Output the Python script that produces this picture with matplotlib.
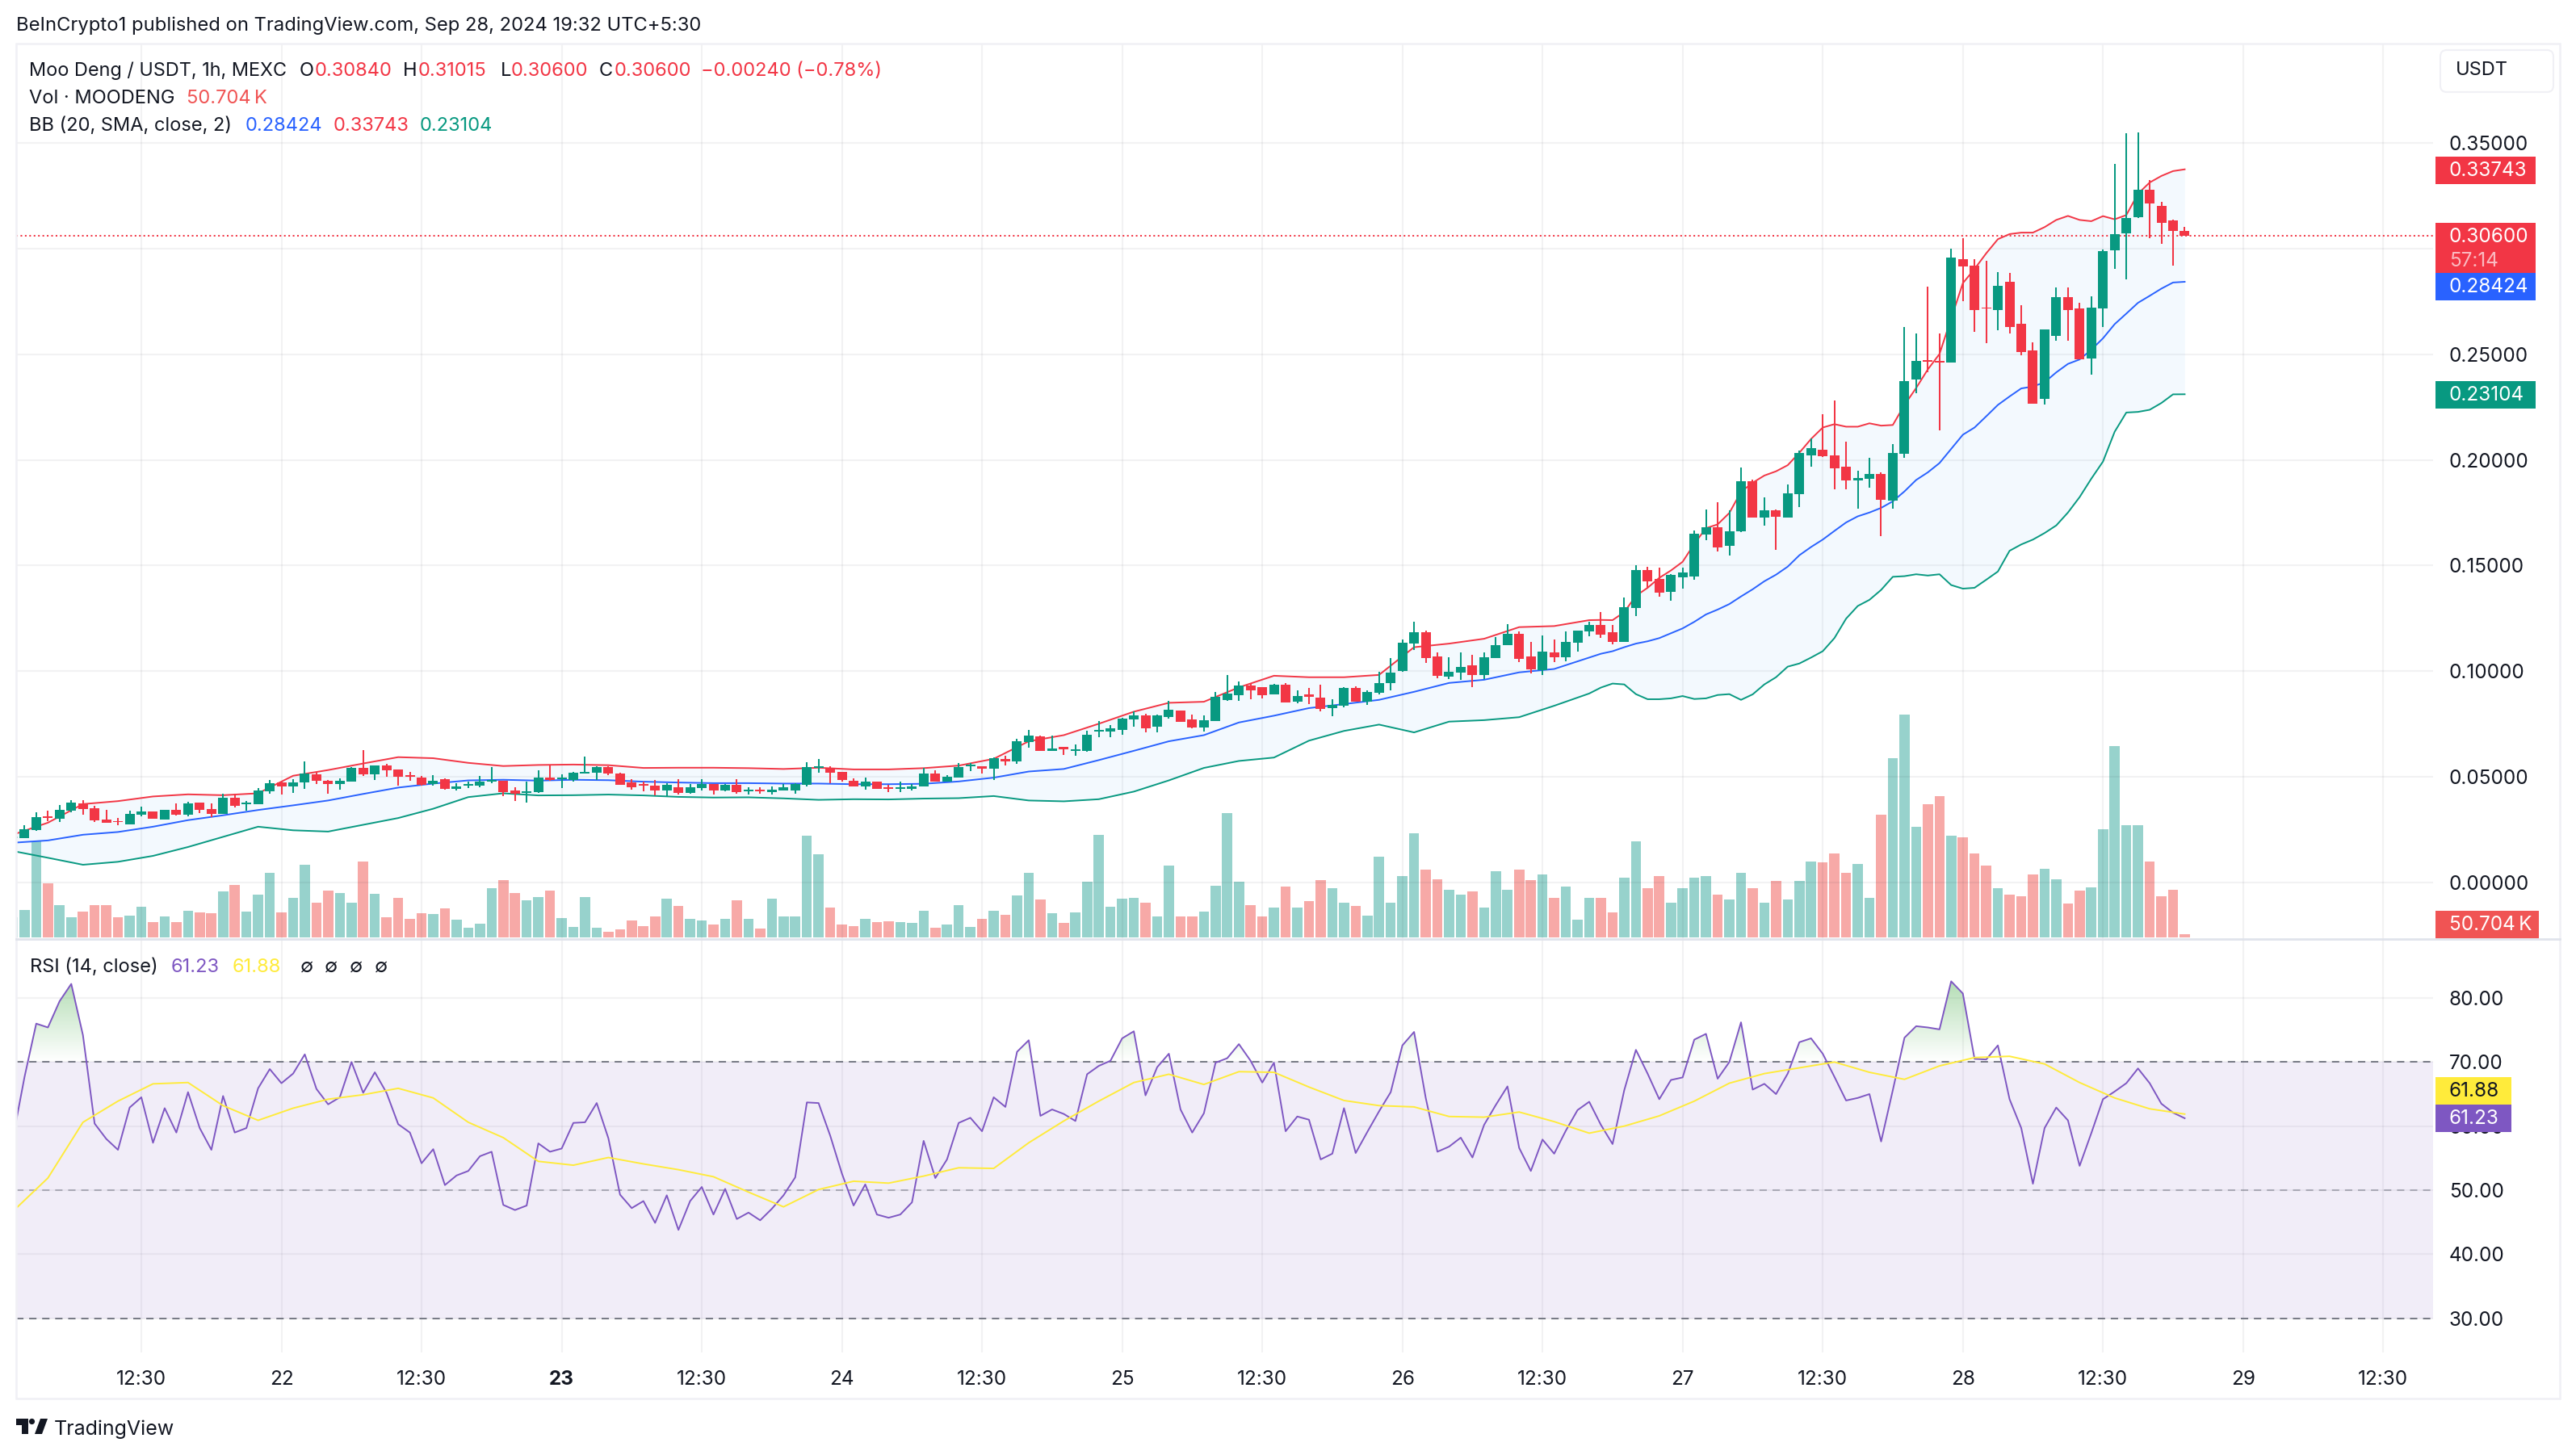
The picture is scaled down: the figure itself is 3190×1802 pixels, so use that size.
import numpy as np
import matplotlib
matplotlib.use("Agg")
import matplotlib.pyplot as plt
from matplotlib.colors import LinearSegmentedColormap
from matplotlib.patches import FancyBboxPatch, PathPatch, Polygon, Circle, Rectangle
from matplotlib.path import Path

plt.rcParams["font.family"] = ["Inter", "DejaVu Sans"]

# hourly bars, index 0 is the first 12:30 gridline on the 21st
bars = np.arange(-11, 176)

open_ = [0.0212, 0.0212, 0.0250, 0.0315, 0.0303, 0.0341, 0.0376, 0.0353, 0.0299, 0.0292, 0.0276,
         0.0322, 0.0338, 0.0299, 0.0345, 0.0322, 0.0380, 0.0349, 0.0326, 0.0403, 0.0372,
         0.0372, 0.0433, 0.0475, 0.0456, 0.0475, 0.0514, 0.0483, 0.0468, 0.0479, 0.0544,
         0.0514, 0.0556, 0.0536, 0.0510, 0.0498, 0.0468, 0.0491, 0.0445, 0.0460, 0.0460,
         0.0479, 0.0483, 0.0437, 0.0426, 0.0429, 0.0498, 0.0491, 0.0487, 0.0517, 0.0521,
         0.0548, 0.0517, 0.0475, 0.0465, 0.0460, 0.0437, 0.0452, 0.0426, 0.0449, 0.0468,
         0.0437, 0.0464, 0.0433, 0.0441, 0.0429, 0.0437, 0.0437, 0.0464, 0.0544, 0.0544,
         0.0525, 0.0483, 0.0456, 0.0479, 0.0452, 0.0445, 0.0445, 0.0456, 0.0517, 0.0479,
         0.0498, 0.0552, 0.0552, 0.0540, 0.0586, 0.0575, 0.0666, 0.0693, 0.0624, 0.0641,
         0.0624, 0.0624, 0.0716, 0.0716, 0.0724, 0.0773, 0.0793, 0.0739, 0.0785, 0.0815,
         0.0773, 0.0735, 0.0766, 0.0865, 0.0888, 0.0934, 0.0926, 0.0892, 0.0938, 0.0857,
         0.0889, 0.0877, 0.0825, 0.0837, 0.0922, 0.0857, 0.0900, 0.0943, 0.1000, 0.1131,
         0.1185, 0.1069, 0.0975, 0.0992, 0.1028, 0.0982, 0.1062, 0.1123, 0.1177, 0.1069,
         0.1006, 0.1088, 0.1065, 0.1134, 0.1188, 0.1218, 0.1185, 0.1138, 0.1300, 0.1478,
         0.1437, 0.1375, 0.1446, 0.1448, 0.1648, 0.1682, 0.1594, 0.1663, 0.1900, 0.1728,
         0.1762, 0.1728, 0.1837, 0.2022, 0.2048, 0.2021, 0.1968, 0.1901, 0.1910, 0.1933,
         0.1808, 0.2029, 0.2381, 0.2470, 0.2468, 0.2461, 0.2950, 0.2920, 0.2720, 0.2710,
         0.2843, 0.2645, 0.2517, 0.2288, 0.2587, 0.2771, 0.2717, 0.2481, 0.2718, 0.2992,
         0.3072, 0.3146, 0.3279, 0.3202, 0.3133, 0.3084]

close = [0.0219, 0.0254, 0.0311, 0.0308, 0.0345, 0.0380, 0.0349, 0.0296, 0.0284, 0.0288, 0.0326,
         0.0338, 0.0303, 0.0345, 0.0322, 0.0376, 0.0345, 0.0326, 0.0403, 0.0364, 0.0380,
         0.0437, 0.0471, 0.0456, 0.0475, 0.0517, 0.0483, 0.0468, 0.0483, 0.0544, 0.0514,
         0.0556, 0.0533, 0.0502, 0.0502, 0.0464, 0.0483, 0.0445, 0.0456, 0.0468, 0.0479,
         0.0487, 0.0429, 0.0422, 0.0433, 0.0498, 0.0487, 0.0498, 0.0521, 0.0525, 0.0548,
         0.0517, 0.0464, 0.0452, 0.0460, 0.0437, 0.0464, 0.0426, 0.0452, 0.0468, 0.0437,
         0.0464, 0.0429, 0.0441, 0.0433, 0.0441, 0.0452, 0.0468, 0.0548, 0.0552, 0.0521,
         0.0487, 0.0456, 0.0479, 0.0445, 0.0445, 0.0452, 0.0456, 0.0517, 0.0479, 0.0502,
         0.0548, 0.0559, 0.0540, 0.0590, 0.0575, 0.0670, 0.0697, 0.0624, 0.0636, 0.0633,
         0.0632, 0.0701, 0.0724, 0.0731, 0.0777, 0.0793, 0.0731, 0.0793, 0.0819, 0.0762,
         0.0735, 0.0770, 0.0880, 0.0896, 0.0934, 0.0911, 0.0888, 0.0938, 0.0854, 0.0885,
         0.0878, 0.0822, 0.0840, 0.0923, 0.0857, 0.0903, 0.0945, 0.0992, 0.1134, 0.1185,
         0.1062, 0.0977, 0.0997, 0.1020, 0.0982, 0.1065, 0.1123, 0.1177, 0.1057, 0.1008,
         0.1095, 0.1065, 0.1138, 0.1192, 0.1218, 0.1172, 0.1138, 0.1303, 0.1478, 0.1425,
         0.1372, 0.1457, 0.1468, 0.1651, 0.1682, 0.1586, 0.1663, 0.1900, 0.1728, 0.1762,
         0.1732, 0.1843, 0.2031, 0.2057, 0.2016, 0.1961, 0.1901, 0.1914, 0.1933, 0.1812,
         0.2032, 0.2373, 0.2468, 0.2466, 0.2462, 0.2957, 0.2916, 0.2710, 0.2716, 0.2824,
         0.2630, 0.2512, 0.2267, 0.2618, 0.2771, 0.2710, 0.2476, 0.2721, 0.2988, 0.3068,
         0.3145, 0.3279, 0.3212, 0.3123, 0.3082, 0.3060]

high = [0.0219, 0.0273, 0.0334, 0.0341, 0.0368, 0.0391, 0.0391, 0.0364, 0.0345, 0.0307, 0.0341,
        0.0361, 0.0338, 0.0345, 0.0376, 0.0384, 0.0380, 0.0376, 0.0422, 0.0422, 0.0387,
        0.0448, 0.0487, 0.0479, 0.0491, 0.0575, 0.0525, 0.0487, 0.0494, 0.0548, 0.0628,
        0.0556, 0.0563, 0.0536, 0.0525, 0.0506, 0.0510, 0.0494, 0.0471, 0.0479, 0.0506,
        0.0548, 0.0483, 0.0452, 0.0479, 0.0533, 0.0558, 0.0514, 0.0525, 0.0598, 0.0552,
        0.0552, 0.0521, 0.0491, 0.0479, 0.0487, 0.0471, 0.0491, 0.0468, 0.0491, 0.0468,
        0.0468, 0.0491, 0.0452, 0.0452, 0.0456, 0.0468, 0.0471, 0.0571, 0.0586, 0.0552,
        0.0525, 0.0494, 0.0498, 0.0479, 0.0464, 0.0479, 0.0468, 0.0544, 0.0533, 0.0510,
        0.0567, 0.0567, 0.0552, 0.0594, 0.0601, 0.0682, 0.0724, 0.0697, 0.0697, 0.0643,
        0.0655, 0.0720, 0.0766, 0.0745, 0.0781, 0.0812, 0.0800, 0.0796, 0.0861, 0.0815,
        0.0796, 0.0793, 0.0903, 0.0984, 0.0953, 0.0942, 0.0926, 0.0942, 0.0945, 0.0911,
        0.0923, 0.0938, 0.0866, 0.0926, 0.0928, 0.0911, 0.0998, 0.1062, 0.1149, 0.1234,
        0.1192, 0.1088, 0.1065, 0.1088, 0.1077, 0.1088, 0.1162, 0.1222, 0.1188, 0.1138,
        0.1169, 0.1149, 0.1188, 0.1192, 0.1234, 0.1280, 0.1218, 0.1349, 0.1500, 0.1494,
        0.1491, 0.1460, 0.1491, 0.1665, 0.1766, 0.1800, 0.1760, 0.1965, 0.1908, 0.1823,
        0.1766, 0.1885, 0.2045, 0.2100, 0.2216, 0.2280, 0.2088, 0.1948, 0.2009, 0.1940,
        0.2075, 0.2629, 0.2598, 0.2820, 0.2598, 0.3000, 0.3050, 0.2950, 0.2942, 0.2889,
        0.2885, 0.2732, 0.2556, 0.2618, 0.2816, 0.2816, 0.2744, 0.2775, 0.2996, 0.3401,
        0.3546, 0.3550, 0.3323, 0.3221, 0.3135, 0.31015]

low = [0.0212, 0.0212, 0.0246, 0.0293, 0.0289, 0.0334, 0.0322, 0.0289, 0.0284, 0.0273, 0.0276,
       0.0315, 0.0303, 0.0299, 0.0319, 0.0315, 0.0330, 0.0311, 0.0326, 0.0357, 0.0341,
       0.0372, 0.0422, 0.0418, 0.0426, 0.0445, 0.0468, 0.0422, 0.0441, 0.0479, 0.0506,
       0.0487, 0.0502, 0.0460, 0.0483, 0.0460, 0.0460, 0.0441, 0.0437, 0.0448, 0.0452,
       0.0471, 0.0410, 0.0387, 0.0380, 0.0426, 0.0483, 0.0448, 0.0479, 0.0517, 0.0487,
       0.0510, 0.0464, 0.0441, 0.0433, 0.0414, 0.0410, 0.0418, 0.0422, 0.0437, 0.0418,
       0.0433, 0.0422, 0.0418, 0.0422, 0.0418, 0.0437, 0.0422, 0.0456, 0.0521, 0.0471,
       0.0479, 0.0456, 0.0441, 0.0445, 0.0429, 0.0429, 0.0437, 0.0456, 0.0479, 0.0479,
       0.0498, 0.0529, 0.0517, 0.0487, 0.0556, 0.0563, 0.0640, 0.0624, 0.0624, 0.0605,
       0.0601, 0.0621, 0.0689, 0.0689, 0.0701, 0.0739, 0.0712, 0.0712, 0.0777, 0.0762,
       0.0731, 0.0716, 0.0766, 0.0861, 0.0861, 0.0869, 0.0873, 0.0892, 0.0854, 0.0849,
       0.0845, 0.0811, 0.0788, 0.0829, 0.0857, 0.0842, 0.0891, 0.0908, 0.0997, 0.1100,
       0.1038, 0.0969, 0.0962, 0.0958, 0.0925, 0.0962, 0.1062, 0.1123, 0.1045, 0.0991,
       0.0983, 0.1043, 0.1046, 0.1095, 0.1165, 0.1157, 0.1126, 0.1138, 0.1262, 0.1392,
       0.1354, 0.1334, 0.1392, 0.1434, 0.1622, 0.1566, 0.1549, 0.1660, 0.1728, 0.1689,
       0.1575, 0.1728, 0.1777, 0.1969, 0.2015, 0.1861, 0.1861, 0.1771, 0.1869, 0.1641,
       0.1771, 0.2011, 0.2315, 0.2413, 0.2141, 0.2461, 0.2751, 0.2606, 0.2552, 0.2614,
       0.2599, 0.2493, 0.2267, 0.2260, 0.2562, 0.2562, 0.2476, 0.2405, 0.2629, 0.2902,
       0.2853, 0.3145, 0.3047, 0.3020, 0.2920, 0.3060]

# volume read as relative bar height, one unit is about 13.7K (last bar is 50.704K)
volume_rel = [25, 34, 119, 67, 40, 25, 32, 40, 40, 25, 27,
              38, 19, 26, 19, 33, 31, 30, 57, 65, 32,
              53, 80, 31, 49, 90, 43, 58, 55, 43, 94,
              54, 25, 49, 23, 30, 29, 36, 22, 12, 17,
              61, 71, 55, 46, 50, 58, 24, 13, 50, 12,
              7, 10, 21, 14, 26, 48, 39, 23, 21, 16,
              23, 46, 23, 11, 48, 26, 26, 126, 103, 37,
              16, 14, 23, 19, 20, 19, 18, 33, 12, 16,
              40, 13, 23, 33, 28, 52, 80, 47, 30, 18,
              31, 69, 127, 38, 48, 49, 43, 26, 89, 26,
              26, 32, 64, 154, 69, 40, 26, 37, 63, 37,
              45, 71, 61, 43, 39, 27, 100, 43, 76, 129,
              84, 72, 59, 53, 57, 37, 82, 59, 84, 71,
              78, 49, 63, 22, 49, 49, 31, 74, 119, 61,
              76, 43, 61, 74, 76, 53, 47, 80, 61, 43,
              70, 47, 70, 94, 93, 104, 80, 91, 49, 152,
              222, 276, 137, 165, 175, 126, 124, 104, 89, 61,
              53, 51, 78, 85, 72, 42, 58, 62, 134, 237,
              139, 139, 94, 51, 59, 3.7]

# bollinger bands, read every third bar and every bar over the steep last part
band_bars = np.concatenate([np.arange(-11, 122, 3), np.arange(124, 176)])

bb_upper = [0.0227, 0.0284, 0.0372, 0.0386, 0.0408, 0.0418, 0.0414, 0.0423, 0.0506, 0.0533,
            0.0564, 0.0594, 0.0589, 0.0567, 0.0552, 0.0557, 0.0559, 0.0556, 0.0543,
            0.0544, 0.0544, 0.0542, 0.0538, 0.0544, 0.0536, 0.0536, 0.0542, 0.0554, 0.0586,
            0.0669, 0.0698, 0.0752, 0.0809, 0.0851, 0.0856, 0.0924, 0.0979,
            0.0972, 0.0972, 0.0983, 0.1114, 0.1131, 0.1154, 0.1209, 0.1214,
            0.1242, 0.1243, 0.1242, 0.1280, 0.1357, 0.1395, 0.1442, 0.1477, 0.1518, 0.1603,
            0.1677, 0.1695, 0.1749, 0.1849, 0.1892, 0.1926, 0.1946, 0.1975, 0.2034, 0.2099,
            0.2153, 0.2169, 0.2157, 0.2157, 0.2173, 0.2162, 0.2165, 0.2260, 0.2340, 0.2428,
            0.2501, 0.2669, 0.2836, 0.2903, 0.2977, 0.3044, 0.3068, 0.3075, 0.3075, 0.3101,
            0.3135, 0.3154, 0.3135, 0.3129, 0.3153, 0.3138, 0.3158, 0.3259, 0.3312, 0.3343,
            0.3366, 0.33743]

bb_basis = [0.0189, 0.0200, 0.0227, 0.0240, 0.0265, 0.0296, 0.0319, 0.0344, 0.0366, 0.0389,
            0.0420, 0.0450, 0.0469, 0.0484, 0.0487, 0.0483, 0.0487, 0.0485, 0.0478,
            0.0474, 0.0471, 0.0471, 0.0469, 0.0469, 0.0466, 0.0466, 0.0468, 0.0479, 0.0497,
            0.0526, 0.0538, 0.0580, 0.0624, 0.0669, 0.0698, 0.0758, 0.0790,
            0.0826, 0.0845, 0.0865, 0.0903, 0.0945, 0.0960, 0.0995, 0.1011,
            0.1065, 0.1083, 0.1095, 0.1114, 0.1131, 0.1142, 0.1157, 0.1180, 0.1203, 0.1234,
            0.1269, 0.1292, 0.1318, 0.1354, 0.1388, 0.1426, 0.1457, 0.1495, 0.1549, 0.1588,
            0.1623, 0.1664, 0.1704, 0.1733, 0.1751, 0.1773, 0.1804, 0.1851, 0.1905, 0.1941,
            0.1985, 0.2052, 0.2119, 0.2153, 0.2206, 0.2260, 0.2300, 0.2338, 0.2347, 0.2367,
            0.2414, 0.2454, 0.2475, 0.2521, 0.2575, 0.2642, 0.2692, 0.2743, 0.2776, 0.2810,
            0.2839, 0.28424]

bb_lower = [0.0150, 0.0118, 0.0085, 0.0099, 0.0127, 0.0169, 0.0217, 0.0265, 0.0248, 0.0242,
            0.0274, 0.0306, 0.0350, 0.0405, 0.0423, 0.0413, 0.0414, 0.0417, 0.0413,
            0.0406, 0.0403, 0.0404, 0.0399, 0.0392, 0.0395, 0.0394, 0.0398, 0.0400, 0.0410,
            0.0389, 0.0385, 0.0395, 0.0431, 0.0484, 0.0543, 0.0576, 0.0592,
            0.0672, 0.0718, 0.0748, 0.0711, 0.0762, 0.0769, 0.0783, 0.0837,
            0.0895, 0.0923, 0.0942, 0.0938, 0.0892, 0.0868, 0.0868, 0.0872, 0.0883, 0.0869,
            0.0872, 0.0888, 0.0892, 0.0865, 0.0891, 0.0938, 0.0972, 0.1022, 0.1037, 0.1065,
            0.1095, 0.1157, 0.1249, 0.1309, 0.1338, 0.1385, 0.1447, 0.1450, 0.1459, 0.1453,
            0.1459, 0.1408, 0.1391, 0.1395, 0.1433, 0.1472, 0.1570, 0.1600, 0.1623, 0.1654,
            0.1690, 0.1751, 0.1824, 0.1911, 0.1992, 0.2133, 0.2224, 0.2227, 0.2237, 0.2269,
            0.2310, 0.23104]

rsi = [58.1, 67.7, 76.0, 75.4, 79.5, 82.2, 74.2, 60.4, 58.0, 56.3, 62.9,
       64.5, 57.4, 62.8, 59.0, 65.3, 59.7, 56.3, 64.7, 59.0, 59.7,
       65.9, 68.9, 66.7, 68.2, 71.2, 65.8, 63.4, 64.5, 70.0, 65.2,
       68.4, 65.2, 60.3, 59.0, 54.2, 56.4, 50.8, 52.3, 53.0, 55.3,
       56.0, 47.7, 46.9, 47.6, 57.3, 56.0, 56.5, 60.5, 60.6, 63.6,
       58.1, 49.3, 47.2, 48.3, 44.9, 49.2, 43.8, 48.3, 50.5, 46.2,
       50.2, 45.5, 46.5, 45.3, 47.1, 49.2, 52.0, 63.7, 63.6, 58.5,
       52.6, 47.6, 50.9, 46.2, 45.7, 46.2, 48.1, 57.7, 51.9, 54.8,
       60.5, 61.3, 59.2, 64.5, 63.0, 71.6, 73.4, 61.6, 62.6, 61.9,
       60.8, 68.1, 69.4, 70.2, 73.7, 74.8, 64.8, 69.2, 71.3, 62.6,
       59.0, 62.0, 69.9, 70.6, 72.8, 70.2, 66.8, 69.9, 59.2, 61.5,
       61.0, 54.8, 55.7, 62.8, 55.8, 59.1, 62.3, 65.3, 72.6, 74.7,
       64.4, 56.0, 56.8, 58.2, 55.1, 60.2, 63.3, 66.2, 56.6, 53.0,
       57.9, 55.7, 59.3, 62.5, 63.8, 60.2, 57.2, 65.6, 71.9, 68.2,
       64.2, 67.2, 67.6, 73.5, 74.4, 67.4, 70.0, 76.2, 65.7, 66.6,
       65.0, 68.2, 73.1, 73.7, 71.3, 67.7, 64.0, 64.4, 65.0, 57.6,
       65.6, 73.8, 75.6, 75.4, 75.1, 82.6, 80.7, 70.5, 70.4, 72.6,
       64.2, 59.7, 51.0, 59.7, 62.9, 60.9, 53.8, 58.9, 64.2, 65.4,
       66.7, 69.0, 66.7, 63.5, 62.1, 61.23]

# RSI average, read every third bar
ma_bars = np.arange(-11, 176, 3)
rsi_ma = [46.7, 51.9, 60.6, 63.9, 66.6, 66.8, 63.2, 60.9, 62.8, 64.2, 64.9, 65.9, 64.4, 60.6, 58.2,
          54.5, 53.9, 55.1, 54.1, 53.2, 52.1, 49.7, 47.4, 50.1, 51.4, 51.1, 52.2, 53.5, 53.4, 57.4,
          60.8, 63.9, 66.8, 68.1, 66.5, 68.5, 68.4, 66.1, 64.0, 63.2, 63.0, 61.5, 61.4, 62.2, 60.7,
          58.9, 60.0, 61.6, 63.9, 66.7, 68.2, 69.1, 70.0, 68.4, 67.3, 69.4, 70.7, 70.9, 69.7, 66.8,
          64.4, 62.7, 61.88]

time_ticks = np.arange(0, 193, 12)
time_labels = ["12:30", "22", "12:30", "23", "12:30", "24", "12:30", "25", "12:30", "26", "12:30",
               "27", "12:30", "28", "12:30", "29", "12:30"]
price_ticks = [0.0, 0.05, 0.10, 0.15, 0.20, 0.25, 0.30, 0.35]
rsi_ticks = [30, 40, 50, 60, 70, 80]

RED = "#F23645"
GREEN = "#089981"
BLUE = "#2962FF"
PURPLE = "#7E57C2"
YELLOW = "#FFEB3B"
INK = "#131722"
BORDER = "#F0F0F5"

W, H = 3190, 1802
fig = plt.figure(figsize=(W / 100, H / 100), dpi=100, facecolor="white")


def px_axes(x0, y0, x1, y1):
    return fig.add_axes([x0 / W, 1 - y1 / H, (x1 - x0) / W, (y1 - y0) / H])


def style_axis(ax):
    for s in ax.spines.values():
        s.set_visible(False)
    ax.tick_params(length=0, labelsize=17.5, labelcolor=INK)
    ax.yaxis.tick_right()
    ax.set_xticks(time_ticks)
    ax.grid(True, color="#2A2E39", alpha=0.06, linewidth=1.5)
    ax.set_axisbelow(True)


xlim = (-10.72, 196.27)
pane_left, pane_right = 20, 3013

# price pane, volume goes on its own axes behind it
ax_vol = px_axes(pane_left, 54, pane_right, 1163)
ax_price = px_axes(pane_left, 54, pane_right, 1163)
ax_vol.set_zorder(1)
ax_price.set_zorder(2)
ax_price.patch.set_visible(False)

open_a, close_a = np.array(open_), np.array(close)
up = close_a >= open_a
colors = np.where(up, GREEN, RED)

volume_k = np.array(volume_rel) * 13.7
ax_vol.bar(bars, volume_k, width=0.87, color=np.where(up, "#97D2CC", "#F7A9A7"), linewidth=0)
ax_vol.set_xlim(xlim)
ax_vol.set_ylim(-2 * 13.7, 1107 * 13.7)
ax_vol.axis("off")

ax_price.fill_between(band_bars, bb_lower, bb_upper, color="#2196F3", alpha=0.05, linewidth=0, zorder=2)
ax_price.plot(band_bars, bb_upper, color=RED, lw=1.4, zorder=3)
ax_price.plot(band_bars, bb_basis, color=BLUE, lw=1.4, zorder=3)
ax_price.plot(band_bars, bb_lower, color=GREEN, lw=1.4, zorder=3)

ax_price.vlines(bars, low, high, colors=colors, linewidth=1.45, zorder=4)
ax_price.bar(bars, np.abs(close_a - open_a), bottom=np.minimum(open_a, close_a), width=0.83,
             color=colors, linewidth=0, zorder=5)
ax_price.axhline(close[-1], color=RED, lw=1.45, ls=(0, (1, 1.7)), zorder=3)

style_axis(ax_price)
ax_price.set_xlim(xlim)
ax_price.set_ylim(-0.02664, 0.3969)
ax_price.set_xticklabels([])
ax_price.set_yticks(price_ticks)
# the 0.30 label sits fully behind the last price tag in the reference
ax_price.set_yticklabels(["" if v == 0.30 else "%.5f" % v for v in price_ticks])
ax_price.tick_params(axis="y", pad=14.4)

# RSI pane
ax_rsi = px_axes(pane_left, 1163, pane_right, 1675)
style_axis(ax_rsi)
ax_rsi.set_zorder(2)
ax_rsi.patch.set_visible(False)
ax_rsi.axhspan(30, 70, color=PURPLE, alpha=0.1, linewidth=0, zorder=1)
ax_rsi.axhline(70, color="#787B86", lw=1.45, ls=(0, (4.5, 3.5)), zorder=2)
ax_rsi.axhline(50, color="#787B86", lw=1.45, ls=(0, (4.5, 3.5)), alpha=0.55, zorder=2)
ax_rsi.axhline(30, color="#787B86", lw=1.45, ls=(0, (4.5, 3.5)), zorder=2)

# overbought gradient, clipped to the area between the line and 70
rsi_a = np.array(rsi)
over = ax_rsi.fill_between(bars, 70, rsi_a, where=rsi_a > 70, interpolate=True, facecolor="none", linewidth=0)
over_path = Path.make_compound_path(*over.get_paths())
grad_cmap = LinearSegmentedColormap.from_list("over", [(0.3, 0.69, 0.31, 0.0), (0.3, 0.69, 0.31, 0.42)])
grad = ax_rsi.imshow(np.linspace(1, 0, 64).reshape(-1, 1), extent=(-12, 176, 70, 82.6), aspect="auto",
                     cmap=grad_cmap, vmin=0, vmax=1, zorder=2)
grad.set_clip_path(PathPatch(over_path, transform=ax_rsi.transData))

ax_rsi.plot(bars, rsi, color=PURPLE, lw=1.4, zorder=3)
ax_rsi.plot(ma_bars, rsi_ma, color=YELLOW, lw=1.4, zorder=4)
ax_rsi.set_xlim(xlim)
ax_rsi.set_ylim(24.67, 89.2)
ax_rsi.set_yticks(rsi_ticks)
ax_rsi.set_yticklabels(["%.2f" % v for v in rsi_ticks])
ax_rsi.tick_params(axis="y", pad=14.4)
ax_rsi.set_xticklabels(time_labels)
ax_rsi.tick_params(axis="x", pad=16)
ax_rsi.get_xticklabels()[3].set_fontweight("bold")

# everything around the panes, in pixel coordinates
ax_o = fig.add_axes([0, 0, 1, 1])
ax_o.set_xlim(0, W)
ax_o.set_ylim(H, 0)
ax_o.axis("off")
ax_o.set_zorder(10)

ax_o.add_patch(Rectangle((20, 54), 3150, 1678, fill=False, edgecolor=BORDER, linewidth=1.8))
ax_o.plot([20, 3170], [1163, 1163], color="#E0E3EB", lw=2.0)

FS = 17.0


def label(x, y, s, color=INK, size=FS, **kw):
    ax_o.text(x, y, s, color=color, fontsize=size, va="center", ha="left", **kw)


label(20, 32, "BeInCrypto1 published on TradingView.com, Sep 28, 2024 19:32 UTC+5:30", size=17.1)

label(36, 88, "Moo Deng / USDT, 1h, MEXC", size=16.9)
for x, s in [(371, "O"), (499, "H"), (620, "L"), (742, "C")]:
    label(x, 88, s)
for x, s in [(390, "0.30840"), (518, "0.31015"), (633, "0.30600"), (761, "0.30600"),
             (868, "\u22120.00240 (\u22120.78%)")]:
    label(x, 88, s, color=RED)

label(36, 122, "Vol \u00b7 MOODENG")
label(231, 122, "50.704\u2009K", color="#F05454")

label(36, 156, "BB (20, SMA, close, 2)")
label(304, 156, "0.28424", color=BLUE)
label(413, 156, "0.33743", color=RED)
label(520, 156, "0.23104", color=GREEN)

label(37, 1198, "RSI (14, close)")
label(212, 1198, "61.23", color=PURPLE)
label(288, 1198, "61.88", color=YELLOW)
for x in [372, 402, 433, 464]:
    label(x, 1198, "\u2205")

ax_o.add_patch(FancyBboxPatch((3022, 62), 140, 52, boxstyle="round,pad=0,rounding_size=8",
                              facecolor="white", edgecolor=BORDER, linewidth=1.5))
label(3041, 87, "USDT")


def tag(y0, y1, s, face, text_color="white", x1=3140):
    ax_o.add_patch(Rectangle((3016, y0), x1 - 3016, y1 - y0, facecolor=face, edgecolor="none"))
    label(3033, (y0 + y1) / 2 + 1, s, color=text_color, size=17.5)


tag(194, 228, "0.33743", RED)
tag(276, 338, "0.30600", RED)
ax_o.texts[-1].set_y(294)
label(3033, 323, "57:14", color="#FABAC0", size=17.5)
tag(338, 372, "0.28424", BLUE)
tag(472, 506, "0.23104", GREEN)
tag(1128, 1162, "50.704\u2009K", "#F05454", x1=3144)
tag(1334, 1368, "61.88", YELLOW, text_color=INK, x1=3110)
tag(1368, 1402, "61.23", PURPLE, x1=3110)

# TradingView logo
ax_o.add_patch(Polygon([(20, 1757), (35, 1757), (35, 1776), (27, 1776), (27, 1765), (20, 1765)], facecolor=INK))
ax_o.add_patch(Circle((39.5, 1760.5), 3.6, facecolor=INK))
ax_o.add_patch(Polygon([(59, 1757), (52, 1776), (43, 1776), (50, 1757)], facecolor=INK))
label(67, 1770, "TradingView", size=18)

fig.savefig("out.png", dpi=100)
